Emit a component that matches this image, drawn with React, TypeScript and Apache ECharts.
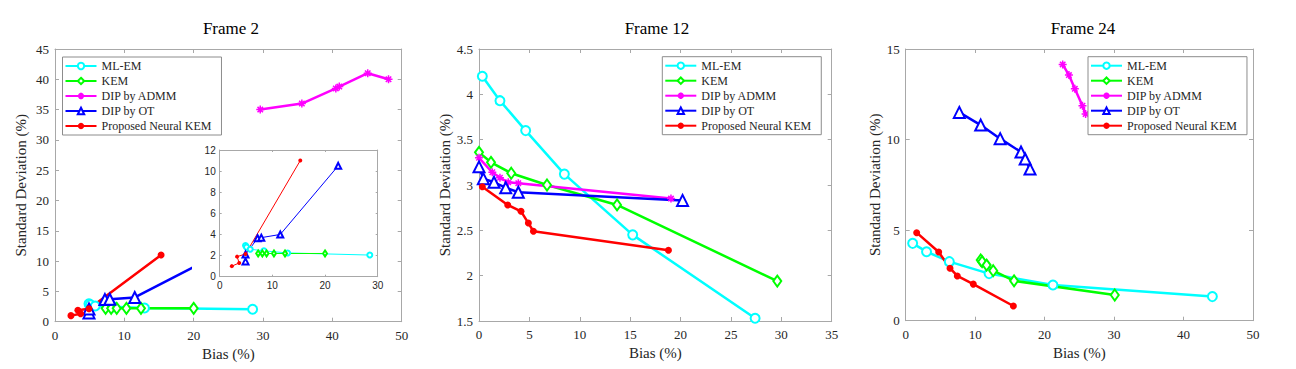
import React, { useEffect, useRef } from "react";
import * as echarts from "echarts";

const seriesNames = ["ML-EM", "KEM", "DIP by ADMM", "DIP by OT", "Proposed Neural KEM"];
const frameTitles = ["Frame 2", "Frame 12", "Frame 24"];
const xAxisTitle = "Bias (%)";
const yAxisTitle = "Standard Deviation (%)";

// Frame 2
const f2MLEM = [[4.9, 2.95], [5.1, 2.8], [5.8, 2.6], [8.4, 2.45], [12.9, 2.25], [28.5, 2.05]];
const f2KEM = [[7.3, 2.2], [8.1, 2.2], [8.9, 2.2], [10.3, 2.2], [12.4, 2.2], [20.0, 2.2]];
const f2ADMM = [[29.6, 35.0], [35.6, 36.0], [40.5, 38.5], [41.0, 38.8], [45.1, 41.0], [48.1, 40.0]];
const f2OT = [[4.9, 1.45], [4.9, 2.1], [7.2, 3.65], [7.9, 3.7], [11.5, 4.0], [22.5, 10.5]];
const f2NKEM = [[2.3, 1.0], [3.7, 1.3], [3.3, 1.9], [4.9, 2.15], [15.3, 11.0]];

// Frame 12
const f12MLEM = [[0.33, 4.2], [2.08, 3.93], [4.63, 3.6], [8.47, 3.12], [15.25, 2.45], [27.4, 1.53]];
const f12KEM = [[0, 3.36], [1.19, 3.25], [3.2, 3.13], [6.75, 3.0], [13.7, 2.78], [29.6, 1.94]];
const f12ADMM = [[0, 3.3], [1.32, 3.14], [2.08, 3.08], [2.9, 3.03], [3.9, 3.02], [19.05, 2.85]];
const f12OT = [[0, 3.2], [0.43, 3.07], [1.49, 3.03], [2.65, 2.97], [3.9, 2.92], [20.2, 2.83]];
const f12NKEM = [[0.33, 2.98], [2.85, 2.78], [4.17, 2.71], [4.9, 2.58], [5.4, 2.49], [18.8, 2.28]];

// Frame 24
const f24MLEM = [[1.0, 4.27], [3.0, 3.81], [6.28, 3.26], [12.0, 2.6], [21.2, 1.97], [44.15, 1.33]];
const f24KEM = [[10.8, 3.35], [11.0, 3.26], [11.65, 3.07], [12.6, 2.76], [15.6, 2.2], [30.1, 1.42]];
const f24ADMM = [[22.6, 14.15], [23.5, 13.56], [24.35, 12.8], [25.45, 11.87], [25.9, 11.41]];
const f24OT = [[7.72, 11.5], [10.8, 10.8], [13.6, 10.05], [16.6, 9.31], [17.2, 8.93], [17.9, 8.37]];
const f24NKEM = [[1.58, 4.86], [4.75, 3.79], [6.38, 2.9], [7.43, 2.47], [9.73, 2.02], [15.5, 0.81]];

// axis ranges [xmin, xmax, xint, ymin, ymax, yint]
const f2Range = [0, 50, 10, 0, 45, 5];
const f12Range = [0, 35, 5, 1.5, 4.5, 0.5];
const f24Range = [0, 50, 10, 0, 15, 5];
const insetRange = [0, 30, 10, 0, 12, 2];

const SERIF = "Liberation Serif, Times New Roman, serif";
const SANS = "Liberation Sans, Arial, sans-serif";
const AX = "#a8a8a8";
const TXT = "#262626";
const COLORS = ["#00ffff", "#00ff00", "#ff00ff", "#0000ff", "#ff0000"];
const ASTER = "path://M5 0 L5 10 M0 5 L10 5 M1.6 1.6 L8.4 8.4 M8.4 1.6 L1.6 8.4";

const grids = [
  { left: 55, top: 49, width: 346.7, height: 272.7 },
  { left: 479, top: 49, width: 352.7, height: 272 },
  { left: 905.7, top: 49, width: 347.3, height: 271.7 },
  { left: 219.7, top: 150, width: 158, height: 126.7 },
];

function makeAxes(gi: number, r: number[], inset: boolean, yNameGap: number) {
  const font = inset ? SANS : SERIF;
  const fs = inset ? 10 : 13;
  const z = inset ? 11 : 0;
  const tickLen = inset ? 2 : 4;
  const common = {
    type: "value",
    gridIndex: gi,
    z,
    splitLine: { show: false },
    axisLine: { show: true, onZero: false, lineStyle: { color: AX, width: 1 } },
    axisTick: { show: true, inside: true, length: tickLen, lineStyle: { color: AX } },
  };
  const xs = [
    {
      ...common,
      position: "bottom",
      min: r[0], max: r[1], interval: r[2],
      axisLabel: { show: true, color: TXT, fontFamily: font, fontSize: fs, margin: inset ? 4 : 7, showMinLabel: true, showMaxLabel: true },
      name: inset ? "" : xAxisTitle,
      nameLocation: "middle",
      nameGap: 24,
      nameTextStyle: { color: TXT, fontFamily: SERIF, fontSize: 15 },
    },
    {
      ...common,
      position: "top",
      min: r[0], max: r[1], interval: r[2],
      axisLabel: { show: false },
    },
  ];
  const ys = [
    {
      ...common,
      position: "left",
      min: r[3], max: r[4], interval: r[5],
      axisLabel: { show: true, color: TXT, fontFamily: font, fontSize: fs, margin: inset ? 4 : 6, showMinLabel: true, showMaxLabel: true },
      name: inset ? "" : yAxisTitle,
      nameLocation: "middle",
      nameGap: yNameGap,
      nameTextStyle: { color: TXT, fontFamily: SERIF, fontSize: 15 },
    },
    {
      ...common,
      position: "right",
      min: r[3], max: r[4], interval: r[5],
      axisLabel: { show: false },
    },
  ];
  return { xs, ys };
}

function makeSeries(axisIdx: number, datasets: (number[][] | null)[], inset: boolean) {
  const out: any[] = [];
  const lw = inset ? 1 : 2.5;
  const bw = inset ? 1 : 2;
  const symbols = ["emptyCircle", "emptyDiamond", ASTER, "emptyTriangle", "circle"];
  const sizes = inset ? [5, [4, 6], 5, 6, 4] : [9, [8, 11], 8, 11, 7];
  datasets.forEach((d, i) => {
    if (!d) return;
    const itemStyle: any = { color: COLORS[i], borderColor: COLORS[i] };
    if (i === 0 || i === 1 || i === 3) itemStyle.borderWidth = bw;
    if (i === 2) itemStyle.borderWidth = inset ? 1 : 1.5;
    if (i === 4) itemStyle.borderWidth = 0;
    out.push({
      type: "line",
      name: seriesNames[i],
      xAxisIndex: axisIdx,
      yAxisIndex: axisIdx,
      data: d,
      symbol: symbols[i],
      symbolSize: sizes[i],
      showAllSymbol: true,
      z: inset ? 12 : 2,
      lineStyle: { color: COLORS[i], width: lw },
      itemStyle,
      emphasis: { disabled: true },
      silent: true,
      clip: false,
    });
  });
  return out;
}

function makeLegend(left: number, top: number) {
  return {
    data: seriesNames,
    orient: "vertical",
    left,
    top,
    itemWidth: 31,
    itemHeight: 8,
    itemGap: 3,
    padding: [3, 10, 3, 2],
    backgroundColor: "#ffffff",
    borderColor: "#8c8c8c",
    borderWidth: 1,
    borderRadius: 0,
    selectedMode: false,
    textStyle: { fontFamily: SERIF, fontSize: 12, color: TXT, lineHeight: 12 },
  };
}

export default function App() {
  const ref = useRef<HTMLDivElement>(null);
  useEffect(() => {
    document.body.style.margin = "0";
    if (!ref.current) return;
    const chart = echarts.init(ref.current, null, { renderer: "svg" });

    const a0 = makeAxes(0, f2Range, false, 27);
    const a1 = makeAxes(1, f12Range, false, 27);
    const a2 = makeAxes(2, f24Range, false, 23);
    const a3 = makeAxes(3, insetRange, true, 0);
    const xAxis = [...a0.xs, ...a1.xs, ...a2.xs, ...a3.xs];
    const yAxis = [...a0.ys, ...a1.ys, ...a2.ys, ...a3.ys];

    const series = [
      ...makeSeries(0, [f2MLEM, f2KEM, f2ADMM, f2OT, f2NKEM], false),
      ...makeSeries(2, [f12MLEM, f12KEM, f12ADMM, f12OT, f12NKEM], false),
      ...makeSeries(4, [f24MLEM, f24KEM, f24ADMM, f24OT, f24NKEM], false),
      ...makeSeries(6, [f2MLEM, f2KEM, null, f2OT, f2NKEM], true),
    ];

    const titleCenters = [226, 652, 1078];
    const option: any = {
      animation: false,
      backgroundColor: "#ffffff",
      textStyle: { fontFamily: SERIF },
      title: frameTitles.map((t, i) => ({
        text: t,
        left: titleCenters[i],
        top: 15,
        textAlign: "center",
        textStyle: { fontFamily: SERIF, fontSize: 17, fontWeight: "normal", color: "#000" },
      })),
      grid: grids.map((g) => ({ ...g, containLabel: false })),
      xAxis,
      yAxis,
      legend: [makeLegend(62.5, 57), makeLegend(662.3, 56.7), makeLegend(1088, 56.7)],
      graphic: [
        {
          type: "rect",
          shape: { x: 192, y: 143, width: 194, height: 150 },
          style: { fill: "#ffffff" },
          z: 10,
          silent: true,
        },
      ],
      series,
    };
    chart.setOption(option);
    return () => chart.dispose();
  }, []);
  return <div ref={ref} style={{ width: 1296, height: 369 }} />;
}
